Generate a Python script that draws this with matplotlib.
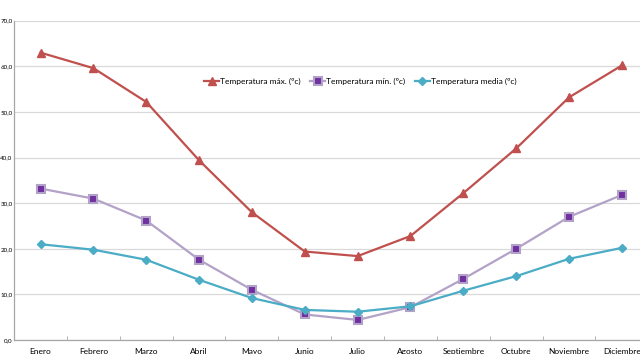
import matplotlib
matplotlib.use("Agg")
import matplotlib.pyplot as plt

# Data
months = ['Enero', 'Febrero', 'Marzo', 'Abril', 'Mayo', 'Junio', 'Julio',
          'Agosto', 'Septiembre', 'Octubre', 'Noviembre', 'Diciembre']
temp_max = [63.0, 59.6, 52.2, 39.4, 28.0, 19.4, 18.4, 22.8, 32.2, 42.0, 53.2, 60.2]
temp_min = [33.2, 31.0, 26.2, 17.6, 11.0, 5.6, 4.4, 7.2, 13.4, 20.0, 27.0, 31.8]
temp_media = [21.0, 19.8, 17.6, 13.2, 9.2, 6.6, 6.2, 7.4, 10.8, 14.0, 17.8, 20.2]
y_ticks = [0, 10, 20, 30, 40, 50, 60, 70]

plt.rcParams['font.family'] = ['Lato', 'DejaVu Sans']

fig = plt.figure(figsize=(6.4, 3.54), dpi=100)
ax = fig.add_axes([0.022, 0.0395, 0.991, 0.902])

x = list(range(len(months)))
ax.plot(x, temp_max, color='#C0504D', lw=1.6, marker='^', ms=6,
        label='Temperatura máx. (ºc)')
ax.plot(x, temp_min, color='#B3A2C7', lw=1.6, marker='s', ms=5.5,
        mfc='#7030A0', mec='#B3A2C7', mew=1.5, label='Temperatura mín. (ºc)')
ax.plot(x, temp_media, color='#4BACC6', lw=1.6, marker='D', ms=4.5,
        mfc='#4BACC6', mec='#4BACC6', label='Temperatura media (ºc)')

ax.set_xlim(-0.5, len(months) - 0.5)
ax.set_ylim(y_ticks[0], y_ticks[-1])
ax.set_yticks(y_ticks)
ax.set_yticklabels([f"{v:.1f}".replace('.', ',') for v in y_ticks], fontsize=4.5)
ax.set_xticks(x)
ax.set_xticklabels(months, fontsize=6)
ax.set_xticks([i + 0.5 for i in x], minor=True)
ax.tick_params(axis='x', which='major', length=0, pad=6)
ax.tick_params(axis='x', which='minor', length=3, direction='in', color='#A6A6A6')
ax.tick_params(axis='y', length=0, pad=1)

ax.grid(axis='y', color='#D9D9D9', lw=0.9)
ax.set_axisbelow(True)
for s in ['top', 'right']:
    ax.spines[s].set_visible(False)
for s in ['left', 'bottom']:
    ax.spines[s].set_color('#A6A6A6')
    ax.spines[s].set_linewidth(0.9)

ax.legend(loc='center', bbox_to_anchor=(0.546, 0.81), ncol=3, frameon=False,
          fontsize=6, handlelength=1.8, handletextpad=0.15, columnspacing=1.1)

fig.savefig('out.png', dpi=100)
